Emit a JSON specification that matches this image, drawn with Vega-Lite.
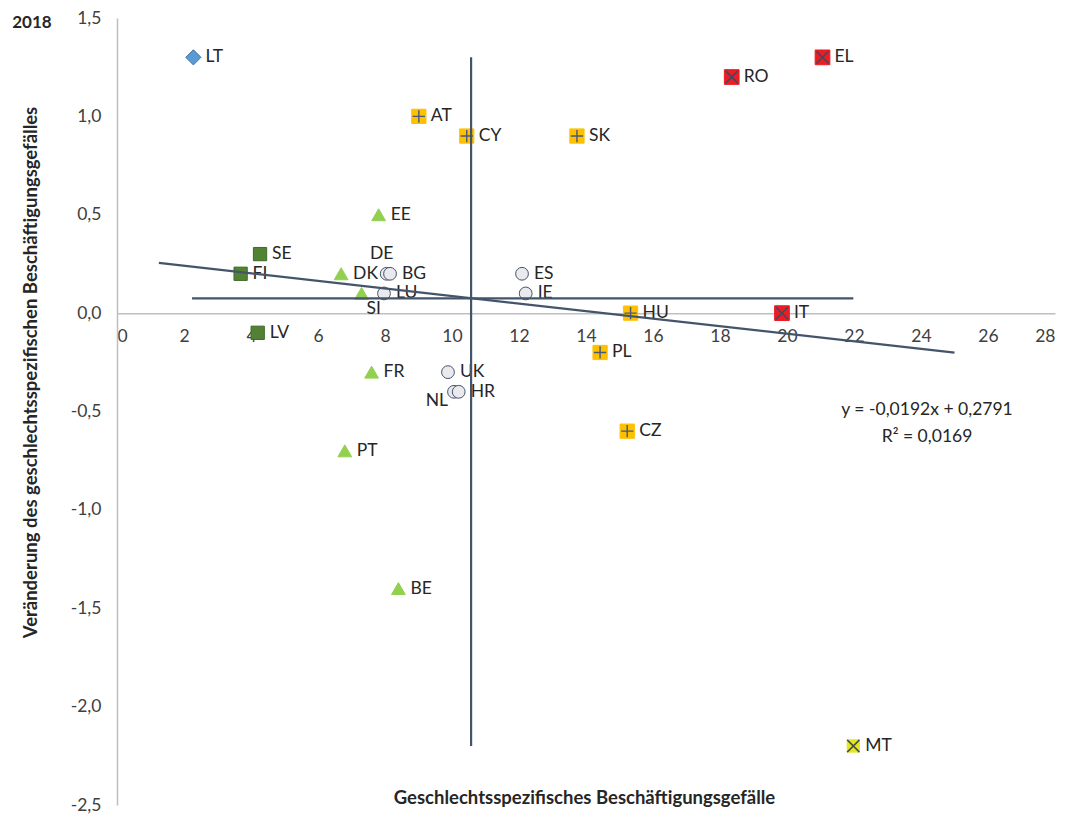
{
  "$schema": "https://vega.github.io/schema/vega-lite/v6.json",
  "autosize": {"type": "none"},
  "width": 938,
  "height": 787,
  "padding": {"left": 117, "top": 18, "right": 16, "bottom": 12},
  "background": "white",
  "config": {
    "font": "Lato",
    "view": {"stroke": null},
    "text": {"font": "Lato"}
  },
  "datasets": {
    "pts": [
      {"country": "LT", "x": 2.28, "y": 1.3, "grp": "blue"},
      {"country": "EL", "x": 21.06, "y": 1.3, "grp": "red"},
      {"country": "RO", "x": 18.35, "y": 1.2, "grp": "red"},
      {"country": "AT", "x": 9.01, "y": 1.0, "grp": "orange"},
      {"country": "CY", "x": 10.44, "y": 0.9, "grp": "orange"},
      {"country": "SK", "x": 13.73, "y": 0.9, "grp": "orange"},
      {"country": "EE", "x": 7.81, "y": 0.5, "grp": "green"},
      {"country": "SE", "x": 4.27, "y": 0.3, "grp": "darkgreen"},
      {"country": "FI", "x": 3.69, "y": 0.2, "grp": "darkgreen"},
      {"country": "DK", "x": 6.69, "y": 0.2, "grp": "green"},
      {"country": "DE", "x": 8.05, "y": 0.2, "grp": "circle"},
      {"country": "BG", "x": 8.15, "y": 0.2, "grp": "circle"},
      {"country": "ES", "x": 12.09, "y": 0.2, "grp": "circle"},
      {"country": "SI", "x": 7.3, "y": 0.1, "grp": "green"},
      {"country": "LU", "x": 7.97, "y": 0.1, "grp": "circle"},
      {"country": "IE", "x": 12.2, "y": 0.1, "grp": "circle"},
      {"country": "HU", "x": 15.33, "y": 0.0, "grp": "orange"},
      {"country": "IT", "x": 19.85, "y": 0.0, "grp": "red"},
      {"country": "LV", "x": 4.2, "y": -0.1, "grp": "darkgreen"},
      {"country": "PL", "x": 14.42, "y": -0.2, "grp": "orange"},
      {"country": "FR", "x": 7.6, "y": -0.3, "grp": "green"},
      {"country": "UK", "x": 9.88, "y": -0.3, "grp": "circle"},
      {"country": "NL", "x": 10.06, "y": -0.4, "grp": "circle"},
      {"country": "HR", "x": 10.2, "y": -0.4, "grp": "circle"},
      {"country": "CZ", "x": 15.23, "y": -0.6, "grp": "orange"},
      {"country": "PT", "x": 6.8, "y": -0.7, "grp": "green"},
      {"country": "BE", "x": 8.4, "y": -1.4, "grp": "green"},
      {"country": "MT", "x": 21.98, "y": -2.2, "grp": "yellow"}
    ],
    "lines": [
      {"name": "mean_x", "x": 10.57, "x2": 10.57, "y": 1.3, "y2": -2.2},
      {"name": "mean_y", "x": 2.24, "x2": 21.98, "y": 0.075, "y2": 0.075},
      {"name": "trend", "x": 1.25, "x2": 25.0, "y": 0.2551, "y2": -0.2009}
    ],
    "notes": [
      {"txt": "y = -0,0192x + 0,2791", "x": 24.18, "y": -0.4925},
      {"txt": "R² = 0,0169", "x": 24.18, "y": -0.63},
      {"txt": "2018", "x": -2.54, "y": 1.475}
    ]
  },
  "layer": [
    {
      "data": {"name": "pts"},
      "mark": {"type": "point", "filled": true, "opacity": 1, "strokeWidth": 1},
      "encoding": {
        "x": {
          "field": "x", "type": "quantitative",
          "scale": {"domain": [0, 28], "nice": false, "zero": false},
          "axis": {
            "values": [0, 2, 4, 6, 8, 10, 12, 14, 16, 18, 20, 22, 24, 26, 28],
            "offset": -491.875,
            "grid": false, "ticks": false,
            "domainColor": "#bfbfbf", "domainWidth": 1.5,
            "labelFontSize": 17.5, "labelColor": "#404040", "labelPadding": 14,
            "labelFont": "Lato",
            "title": "Geschlechtsspezifisches Beschäftigungsgefälle",
            "titleFont": "Lato", "titleFontSize": 18.5, "titleFontWeight": "bold",
            "titleColor": "#262626",
            "titleX": 467, "titleY": 484, "titleAlign": "center", "titleBaseline": "middle"
          }
        },
        "y": {
          "field": "y", "type": "quantitative",
          "scale": {"domain": [-2.5, 1.5], "nice": false, "zero": false},
          "axis": {
            "values": [-2.5, -2, -1.5, -1, -0.5, 0, 0.5, 1, 1.5],
            "labelExpr": "(datum.value < 0 ? '-' : '') + replace(format(abs(datum.value), '.1f'), '.', ',')",
            "grid": false, "ticks": false,
            "domainColor": "#bfbfbf", "domainWidth": 1.5,
            "labelFontSize": 17.5, "labelColor": "#404040", "labelPadding": 16,
            "labelFont": "Lato",
            "title": "Veränderung des geschlechtsspezifischen Beschäftigungsgefälles",
            "titleFont": "Lato", "titleFontSize": 18.5, "titleFontWeight": "bold",
            "titleColor": "#262626",
            "titleX": -87, "titleY": 354, "titleAngle": -90, "titleAlign": "center", "titleBaseline": "middle"
          }
        },
        "fill": {
          "field": "grp", "type": "nominal", "legend": null,
          "scale": {
            "domain": ["blue", "red", "orange", "green", "darkgreen", "circle", "yellow"],
            "range": ["#5b9bd5", "#ed1c24", "#ffc000", "#92d050", "#548235", "#e9e9ee", "#e6e619"]
          }
        },
        "stroke": {
          "field": "grp", "type": "nominal", "legend": null,
          "scale": {
            "domain": ["blue", "red", "orange", "green", "darkgreen", "circle", "yellow"],
            "range": ["#41719c", "#ed1c24", "#ffc000", "#92d050", "#3d6b26", "#44546a", "#e6e619"]
          }
        },
        "shape": {
          "field": "grp", "type": "nominal", "legend": null,
          "scale": {
            "domain": ["blue", "red", "orange", "green", "darkgreen", "circle", "yellow"],
            "range": ["diamond", "square", "square", "triangle-up", "square", "circle", "square"]
          }
        },
        "size": {
          "field": "grp", "type": "nominal", "legend": null,
          "scale": {
            "domain": ["blue", "red", "orange", "green", "darkgreen", "circle", "yellow"],
            "range": [230, 150, 150, 240, 120, 140, 150]
          }
        }
      }
    },
    {
      "data": {"name": "pts"},
      "transform": [{"filter": "datum.grp === 'orange'"}],
      "mark": {"type": "point", "filled": false, "shape": "M-1,0L1,0M0,-1L0,1", "size": 150, "stroke": "#44597f", "strokeWidth": 1.4, "opacity": 1},
      "encoding": {
        "x": {"field": "x", "type": "quantitative"},
        "y": {"field": "y", "type": "quantitative"}
      }
    },
    {
      "data": {"name": "pts"},
      "transform": [{"filter": "datum.grp === 'red' || datum.grp === 'yellow'"}],
      "mark": {"type": "point", "filled": false, "shape": "M-1,-1L1,1M-1,1L1,-1", "size": 150, "stroke": "#3f4a60", "strokeWidth": 1.5, "opacity": 1},
      "encoding": {
        "x": {"field": "x", "type": "quantitative"},
        "y": {"field": "y", "type": "quantitative"}
      }
    },
    {
      "data": {"name": "pts"},
      "transform": [{"filter": "datum.country !== 'DE' && datum.country !== 'SI' && datum.country !== 'NL'"}],
      "mark": {"type": "text", "align": "left", "baseline": "middle", "dx": 12, "fontSize": 17.5, "color": "#262626", "font": "Lato"},
      "encoding": {
        "x": {"field": "x", "type": "quantitative"},
        "y": {"field": "y", "type": "quantitative"},
        "text": {"field": "country"}
      }
    },
    {
      "data": {"name": "pts"},
      "transform": [{"filter": "datum.country === 'DE'"}],
      "mark": {"type": "text", "align": "center", "baseline": "middle", "dx": -5, "dy": -20, "fontSize": 17.5, "color": "#262626", "font": "Lato"},
      "encoding": {
        "x": {"field": "x", "type": "quantitative"},
        "y": {"field": "y", "type": "quantitative"},
        "text": {"field": "country"}
      }
    },
    {
      "data": {"name": "pts"},
      "transform": [{"filter": "datum.country === 'SI'"}],
      "mark": {"type": "text", "align": "left", "baseline": "middle", "dx": 5, "dy": 16, "fontSize": 17.5, "color": "#262626", "font": "Lato"},
      "encoding": {
        "x": {"field": "x", "type": "quantitative"},
        "y": {"field": "y", "type": "quantitative"},
        "text": {"field": "country"}
      }
    },
    {
      "data": {"name": "pts"},
      "transform": [{"filter": "datum.country === 'NL'"}],
      "mark": {"type": "text", "align": "right", "baseline": "middle", "dx": -6, "dy": 9, "fontSize": 17.5, "color": "#262626", "font": "Lato"},
      "encoding": {
        "x": {"field": "x", "type": "quantitative"},
        "y": {"field": "y", "type": "quantitative"},
        "text": {"field": "country"}
      }
    },
    {
      "data": {"name": "lines"},
      "mark": {"type": "rule", "color": "#44546a", "strokeWidth": 2.2},
      "encoding": {
        "x": {"field": "x", "type": "quantitative"},
        "x2": {"field": "x2"},
        "y": {"field": "y", "type": "quantitative"},
        "y2": {"field": "y2"}
      }
    },
    {
      "data": {"name": "notes"},
      "transform": [{"filter": "datum.txt !== '2018'"}],
      "mark": {"type": "text", "align": "center", "baseline": "middle", "fontSize": 17.5, "color": "#262626", "font": "Lato"},
      "encoding": {
        "x": {"field": "x", "type": "quantitative"},
        "y": {"field": "y", "type": "quantitative"},
        "text": {"field": "txt"}
      }
    },
    {
      "data": {"name": "notes"},
      "transform": [{"filter": "datum.txt === '2018'"}],
      "mark": {"type": "text", "align": "center", "baseline": "middle", "fontSize": 17, "fontWeight": "bold", "color": "#262626", "font": "Lato"},
      "encoding": {
        "x": {"field": "x", "type": "quantitative"},
        "y": {"field": "y", "type": "quantitative"},
        "text": {"field": "txt"}
      }
    }
  ]
}
